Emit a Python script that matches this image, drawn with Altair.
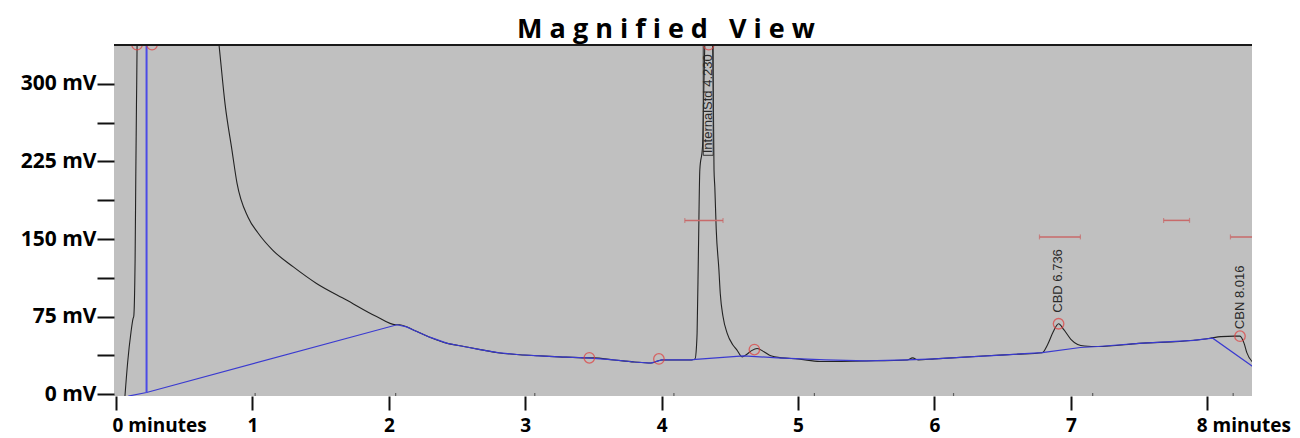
import altair as alt
import pandas as pd

# ---------------- data ----------------
# detector trace (minutes, mV); values above the scale are off-scale peaks
trace_t = [0.065, 0.085, 0.11, 0.125, 0.13, 0.14, 0.145, 0.15, 0.155, 0.16, 0.5, 0.72,
           0.755, 0.80, 0.85, 0.887, 0.968, 1.04, 1.15, 1.30, 1.47, 1.69, 1.91, 2.05,
           2.08, 2.13, 2.18, 2.30, 2.43, 2.55, 2.67, 2.80, 2.96, 3.10, 3.25, 3.45, 3.50,
           3.65, 3.80, 3.92, 4.00, 4.05, 4.22, 4.245, 4.255, 4.26, 4.27, 4.28, 4.30, 4.31,
           4.345, 4.378, 4.384, 4.39, 4.40, 4.42, 4.43, 4.45, 4.48, 4.52, 4.55, 4.59, 4.62,
           4.66, 4.70, 4.75, 4.80, 4.88, 5.00, 5.16, 5.50, 5.80, 5.84, 5.88, 6.00, 6.39,
           6.60, 6.79, 6.83, 6.87, 6.91, 6.95, 7.00, 7.05, 7.10, 7.20, 7.50, 7.90, 8.02,
           8.10, 8.20, 8.24, 8.27, 8.29, 8.34]
trace_mv = [-3, 30, 60, 73, 75, 130, 210, 280, 345, 500, 600, 380,
            338, 280, 236, 204, 171, 156, 139, 123, 107, 91, 75, 67,
            67, 65, 62, 55, 49, 46, 43, 40, 38, 37, 36, 35, 35,
            33, 31, 30, 33, 33, 33, 34, 45, 59, 140, 217, 240, 300,
            460, 300, 217, 200, 160, 120, 97, 75, 59, 48, 43, 36, 38,
            42, 44, 41, 37, 35, 34, 31.5, 32, 33, 35, 33, 34, 37,
            38.5, 40, 48, 60, 68, 62, 53, 48, 46.5, 46, 49, 52, 54,
            55.5, 56, 56, 49, 40, 30]

# integration baseline (blue)
base_t = [0.09, 0.224, 2.06, 2.13, 2.18, 2.30, 2.43, 2.55, 2.67, 2.80, 2.96, 3.10,
          3.25, 3.45, 3.65, 3.80, 3.92, 4.00, 4.22, 4.25, 4.60, 4.85, 5.20, 5.50,
          5.80, 6.00, 6.39, 6.79, 7.07, 7.20, 7.50, 7.90, 8.04, 8.34]
base_mv = [-2, 1.5, 67, 65, 62, 55, 49, 46, 43, 40, 38, 37,
           36, 35, 33, 31, 30, 33, 33, 33.5, 37, 35, 33, 32,
           33, 34, 37, 40, 45, 46, 49, 52, 54, 26]
drop_t = [0.224, 0.224]
drop_mv = [1.5, 400]

# detected peaks (red circles)
peak_t = [0.154, 0.264, 3.47, 3.98, 4.345, 4.68, 6.91, 8.24]
peak_mv = [338, 338, 35, 34, 338, 43, 68, 56]

# expected retention windows (red bars)
win_t0 = [4.17, 6.77, 7.68, 8.17]
win_t1 = [4.45, 7.07, 7.87, 8.45]
win_mv = [168, 152, 168, 152]

# peak labels
lab_text = ["InternalStd 4.230", "CBD 6.736", "CBN 8.016"]
lab_t = [4.342, 6.906, 8.24]
lab_mv = [231, 68, 56]
lab_dx = [2, 11, 7]

# label box of the internal standard
box_t0, box_t1, box_mv0, box_mv1 = [4.305], [4.378], [231], [400]

# tiny secondary ticks of the instrument's own time axis (bottom edge)
sec_ticks = [1.02, 2.05, 3.07, 4.09, 5.12, 6.14, 7.16, 8.19]

y_ticks = [0, 37.5, 75, 112.5, 150, 187.5, 225, 262.5, 300]
x_ticks = [0, 1, 2, 3, 4, 5, 6, 7, 8]

# ---------------- chart ----------------
XDOM = [-0.0147, 8.328]
YDOM = [-1.9, 337.7]
xs = alt.Scale(domain=XDOM, nice=False, zero=False)
ys = alt.Scale(domain=YDOM, nice=False, zero=False)

x_axis = alt.Axis(
    values=x_ticks, title=None, grid=False, domain=False,
    tickSize=14, tickWidth=2, tickColor="#111",
    labelFont="Open Sans", labelFontSize=19, labelFontWeight="bold", labelColor="#000",
    labelPadding=6, labelFlush=False, labelOverlap=False, labelBound=False,
    labelExpr="datum.value == 0 ? '0 minutes' : (datum.value == 8 ? '8 minutes' : datum.label)",
    labelAlign={"condition": {"test": "datum.value == 0 || datum.value == 8", "value": "left"},
                "value": "center"},
    labelOffset={"condition": [{"test": "datum.value == 0", "value": -4},
                               {"test": "datum.value == 8", "value": -11}],
                 "value": 0},
)
y_axis = alt.Axis(
    values=y_ticks, title=None, grid=False, domain=False,
    tickSize=17, tickWidth=2, tickColor="#111",
    labelFont="Open Sans", labelFontSize=21, labelFontWeight="bold", labelColor="#000",
    labelPadding=1, labelExpr="datum.value % 75 == 0 ? datum.value + ' mV' : ''",
)

def X(f):
    return alt.X(f, type="quantitative", scale=xs, axis=x_axis)

def Y(f):
    return alt.Y(f, type="quantitative", scale=ys, axis=y_axis)

trace_df = pd.DataFrame({"t": trace_t, "mv": trace_mv, "i": range(len(trace_t))})
base_df = pd.DataFrame({"t": base_t, "mv": base_mv, "i": range(len(base_t))})
drop_df = pd.DataFrame({"t": drop_t, "mv": drop_mv, "i": range(len(drop_t))})
peak_df = pd.DataFrame({"t": peak_t, "mv": peak_mv})
win_df = pd.DataFrame({"t": win_t0, "t1": win_t1, "mv": win_mv})
cap_df = pd.DataFrame({"t": win_t0 + win_t1, "mv": win_mv + win_mv})
box_df = pd.DataFrame({"t": box_t0, "t1": box_t1, "mv": box_mv0, "m1": box_mv1})
sec_df = pd.DataFrame({"t": sec_ticks, "mv": [YDOM[0]] * len(sec_ticks)})

trace = alt.Chart(trace_df).mark_line(color="#222", strokeWidth=1.1, clip=True,
                                      interpolate="monotone").encode(
    x=X("t"), y=Y("mv"), order="i:Q")
base = alt.Chart(base_df).mark_line(color="#3a3ad0", strokeWidth=1.2, clip=True).encode(
    x=X("t"), y=Y("mv"), order="i:Q")
drop = alt.Chart(drop_df).mark_line(color="#4a4ae6", strokeWidth=2, clip=True).encode(
    x=X("t"), y=Y("mv"), order="i:Q")
wins = alt.Chart(win_df).mark_rule(color="#c86a6a", strokeWidth=1.5, clip=True).encode(
    x=X("t"), x2="t1", y=Y("mv"))
caps = alt.Chart(cap_df).mark_tick(color="#c86a6a", orient="vertical", size=5, thickness=1.2,
                                   clip=True).encode(x=X("t"), y=Y("mv"))
secs = alt.Chart(sec_df).mark_tick(color="#333", orient="vertical", size=6, thickness=1.2,
                                   clip=True).encode(x=X("t"), y=Y("mv"))
peaks = alt.Chart(peak_df).mark_point(shape="circle", filled=False, color="#e03c3c", size=110,
                                      strokeWidth=1.3, clip=True).encode(x=X("t"), y=Y("mv"))
box = alt.Chart(box_df).mark_rect(fill=None, stroke="#333", strokeWidth=1, clip=True).encode(
    x=X("t"), x2="t1", y=Y("mv"), y2="m1")

label_layers = []
for txt, t, mv, dx in zip(lab_text, lab_t, lab_mv, lab_dx):
    d = pd.DataFrame({"txt": [txt], "t": [t], "mv": [mv]})
    label_layers.append(
        alt.Chart(d).mark_text(angle=270, align="left", baseline="middle",
                               font="Liberation Sans", fontSize=13, color="#2a2a2a",
                               dx=dx, clip=True).encode(x=X("t"), y=Y("mv"), text="txt:N"))

top_line = alt.Chart(alt.Data(values=[{}])).mark_rule(color="#1a1a1a", strokeWidth=2).encode(
    x=alt.value(0), x2=alt.value(1138), y=alt.value(0))

chart = alt.layer(trace, base, drop, wins, caps, secs, box, *label_layers, peaks,
                  top_line).properties(
    width=1138, height=351,
    title=alt.Title("M\u00a0a\u00a0g\u00a0n\u00a0i\u00a0f\u00a0i\u00a0e\u00a0d\u00a0\u00a0\u00a0V\u00a0i\u00a0e\u00a0w",
                    font="Open Sans", fontSize=27, fontWeight="bold", color="#000",
                    anchor="middle", offset=0, dx=-17),
    autosize=alt.AutoSizeParams(type="none"),
    padding={"left": 106, "top": 37, "right": 40, "bottom": 42},
).configure_view(fill="#c0c0c0", stroke=None)

chart.save("out.html", embed_options={"renderer": "svg", "actions": False})
